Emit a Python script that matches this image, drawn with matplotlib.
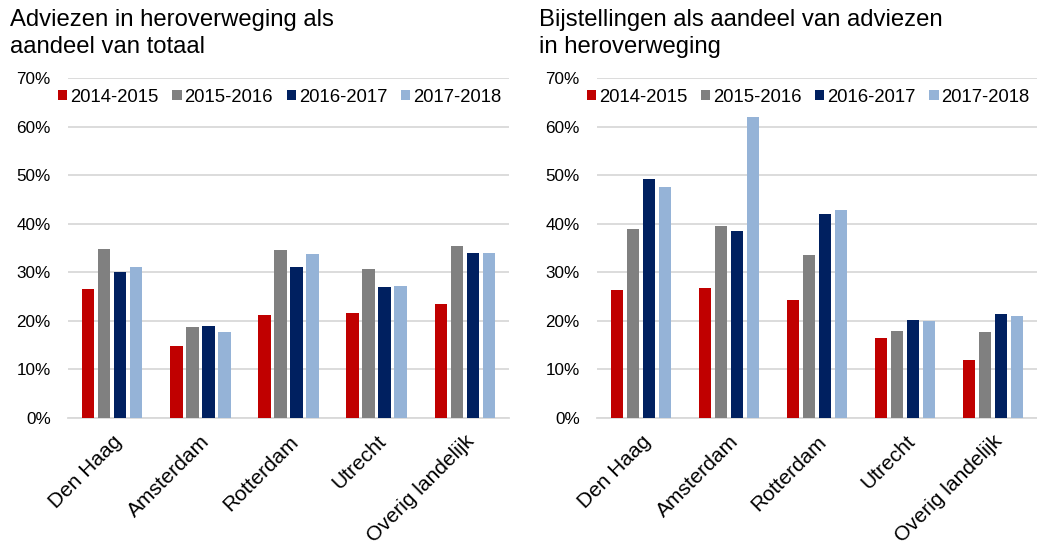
import matplotlib
matplotlib.use("Agg")
import matplotlib.pyplot as plt
import numpy as np
from matplotlib.ticker import PercentFormatter

plt.rcParams['font.family'] = ['Liberation Sans', 'DejaVu Sans']

categories = ["Den Haag", "Amsterdam", "Rotterdam", "Utrecht", "Overig landelijk"]
series = ["2014-2015", "2015-2016", "2016-2017", "2017-2018"]
colors = ["#C00000", "#808080", "#002060", "#95B3D7"]

left_title = "Adviezen in heroverweging als\naandeel van totaal"
left_values = {
    "2014-2015": [26.5, 14.8, 21.2, 21.6, 23.5],
    "2015-2016": [34.7, 18.8, 34.5, 30.7, 35.5],
    "2016-2017": [30.1, 19.0, 31.1, 27.0, 34.0],
    "2017-2018": [31.0, 17.8, 33.8, 27.2, 34.0],
}

right_title = "Bijstellingen als aandeel van adviezen\nin heroverweging"
right_values = {
    "2014-2015": [26.4, 26.8, 24.2, 16.4, 11.9],
    "2015-2016": [39.0, 39.6, 33.6, 18.0, 17.8],
    "2016-2017": [49.3, 38.6, 42.1, 20.2, 21.4],
    "2017-2018": [47.5, 62.0, 42.9, 20.0, 21.0],
}

yticks = [0, 10, 20, 30, 40, 50, 60, 70]

W, H = 1037, 552
fig = plt.figure(figsize=(W / 100, H / 100), dpi=100)

def make_axes(x0, x1, title, values, title_x):
    ax = fig.add_axes([x0 / W, 1 - 418 / H, (x1 - x0) / W, (418 - 78) / H])
    x = np.arange(len(categories))
    pitch = 0.181
    for i, s in enumerate(series):
        ax.bar(x + (i - 1.5) * pitch, values[s], width=0.142, color=colors[i],
               label=s, zorder=3)
    ax.set_xlim(-0.5, len(categories) - 0.5)
    ax.set_ylim(0, 70)
    ax.set_yticks(yticks)
    ax.yaxis.set_major_formatter(PercentFormatter(decimals=0))
    ax.grid(axis='y', color='#D9D9D9', linewidth=1.3, zorder=0)
    for sp in ['top', 'right', 'left']:
        ax.spines[sp].set_visible(False)
    ax.spines['bottom'].set_color('#D9D9D9')
    ax.spines['bottom'].set_linewidth(1.3)
    ax.tick_params(axis='both', length=0, labelsize=12.3, colors='#000000')
    ax.tick_params(axis='y', pad=12.5)
    ax.set_xticks(x)
    ax.set_xticklabels(categories, rotation=45, ha='right', rotation_mode='anchor',
                       fontsize=15)
    ax.tick_params(axis='x', pad=10)
    ax.legend(loc='upper center', bbox_to_anchor=(0.48, 0.99), ncol=4,
              frameon=False, fontsize=13.3, handlelength=0.5,
              handleheight=0.5, handletextpad=0.15, columnspacing=0.75,
              borderaxespad=0)
    fig.text(title_x / W, 1 - 9 / H, title, ha='left', va='top', fontsize=17.2,
             linespacing=1.32)
    return ax

make_axes(68, 509, left_title, left_values, 10)
make_axes(597, 1037, right_title, right_values, 539)

fig.savefig("out.png", dpi=100)
